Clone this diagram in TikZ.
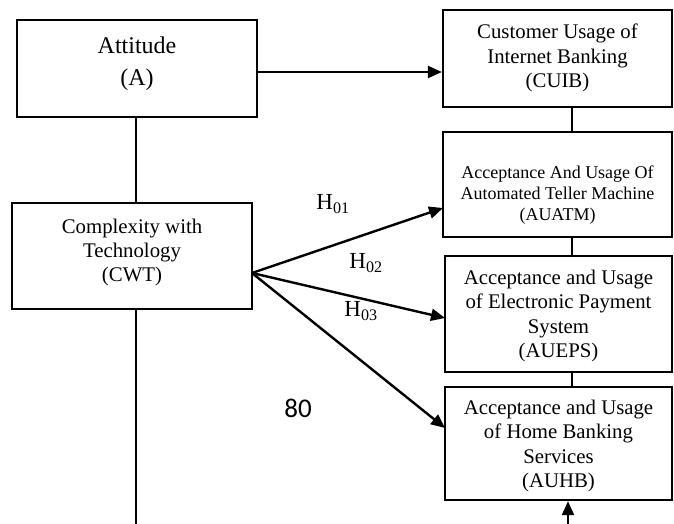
\documentclass[tikz,border=0pt]{standalone}
\usepackage{fontspec}
\setmainfont{Liberation Serif}
\newfontfamily\carlito{Carlito}
\usetikzlibrary{arrows.meta}
\tikzset{
  box/.style={draw, line width=2.4pt, inner sep=0pt, minimum width=#1},
  txt/.style={align=center, inner sep=0pt},
  conn/.style={line width=2.4pt},
  arr/.style={line width=2.4pt, -{Triangle[length=14pt,width=12pt]}},
  hlab/.style={inner sep=0pt, font=\fontsize{23}{25}\selectfont}
}
\begin{document}
\begin{tikzpicture}[x=1pt,y=-1pt]
\useasboundingbox (0,0) rectangle (674,524);
% boxes
\node[box=240pt, minimum height=97pt] (A) at (137,68.5) {};
\node[txt, font=\fontsize{24}{32}\selectfont] (At) at (137,64) {Attitude\\(A)};
\node[box=229pt, minimum height=97pt] (CUIB) at (557.5,58.5) {};
\node[txt, font=\fontsize{20.8}{24.5}\selectfont] (CUIBt) at (557.5,58) {Customer Usage of\\Internet Banking\\(CUIB)};
\node[box=229pt, minimum height=105pt] (AUATM) at (557.5,184.5) {};
\node[txt, font=\fontsize{18}{21}\selectfont] (AUATMt) at (557.5,195) {Acceptance And Usage Of\\Automated Teller Machine\\(AUATM)};
\node[box=227pt, minimum height=116pt] (AUEPS) at (558.5,314) {};
\node[txt, font=\fontsize{20.8}{24.3}\selectfont] (AUEPSt) at (558.5,316) {Acceptance and Usage\\of Electronic Payment\\System\\(AUEPS)};
\node[box=227pt, minimum height=113pt] (AUHB) at (558.5,443.5) {};
\node[txt, font=\fontsize{20.8}{24.3}\selectfont] (AUHBt) at (558.5,446) {Acceptance and Usage\\of Home Banking\\Services\\(AUHB)};
\node[box=240pt, minimum height=106pt] (CWT) at (132,256) {};
\node[txt, font=\fontsize{20.8}{24.3}\selectfont] (CWTt) at (132,252.5) {Complexity with\\Technology\\(CWT)};
% coordinates
\coordinate (cwtout) at (252,273);
\coordinate (bottomL) at (136,524);
\coordinate (bottomR) at (568,524);
\coordinate (t1) at (443,208);
\coordinate (t2) at (445,318);
\coordinate (t3) at (445,428);
% connectors
\draw[conn] (A.south -| 136,0) -- (CWT.north -| 136,0);
\draw[conn] (CWT.south -| 136,0) -- (bottomL);
\draw[conn] (CUIB.south -| 572,0) -- (AUATM.north -| 572,0);
\draw[conn] (AUATM.south -| 572,0) -- (AUEPS.north -| 572,0);
\draw[conn] (AUEPS.south -| 572,0) -- (AUHB.north -| 572,0);
\draw[arr] (A.east |- 0,72) -- (CUIB.west |- 0,72);
\draw[arr] (bottomR) -- (AUHB.south -| 568,0);
\draw[arr] (cwtout) -- (t1);
\draw[arr] (cwtout) -- (t2);
\draw[arr] (cwtout) -- (t3);
% labels
\node[hlab] (H1) at (333,204) {H$_{\mathrm{01}}$};
\node[hlab] (H2) at (366,263) {H$_{\mathrm{02}}$};
\node[hlab] (H3) at (361,311) {H$_{\mathrm{03}}$};
\node[inner sep=0pt, font=\carlito\fontsize{27}{30}\selectfont] (num) at (298,408) {80};
\end{tikzpicture}
\end{document}
